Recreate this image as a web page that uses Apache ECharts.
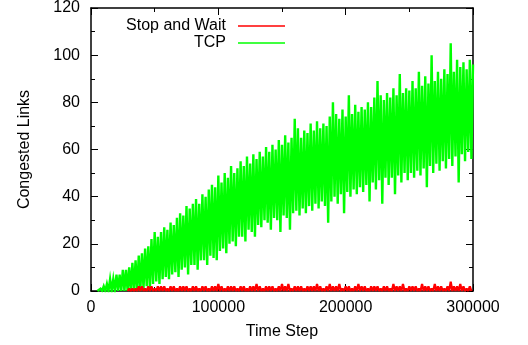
<!DOCTYPE html>
<html>
<head>
<meta charset="utf-8">
<script src="https://cdn.jsdelivr.net/npm/echarts@6/dist/echarts.min.js"></script>
<style>
html,body{margin:0;padding:0;background:#fff;}
#chart{width:528px;height:345px;}
</style>
</head>
<body>
<div id="chart"></div>
<script>
// ---- data ----
const xTicks = [0, 100000, 200000, 300000];
const yTicks = [0, 20, 40, 60, 80, 100, 120];
const seriesNames = ['Stop and Wait', 'TCP'];

// TCP: sampled every 2500 steps from 5000; peaks at the sample, troughs half a step later
const tcpStart = 5000, tcpStep = 2500;
const tcpHigh = [
  0,1,2,3,5,5,7,7,9,9,
  10,12,13,15,16,18,19,22,25,23,
  25,27,26,29,28,31,33,32,36,35,
  37,39,37,41,40,43,45,44,49,46,
  50,48,53,50,52,55,53,57,54,58,
  56,59,57,61,59,62,60,64,62,66,
  63,65,73,69,65,68,67,71,68,72,
  69,71,70,74,80,75,73,77,74,83,
  75,79,76,78,77,80,78,82,89,83,
  81,84,82,86,83,92,84,86,85,89,
  86,93,87,91,88,100,89,93,90,94,
  92,105,93,98,95,97,94,98,96
];
const tcpLow = [
  0,0,0,0,0,0,0,0,0,0,
  0,0,0,0,1,2,1,3,4,3,
  5,6,5,7,8,6,9,10,7,11,
  11,9,13,13,11,15,14,13,17,18,
  16,20,21,19,23,23,21,26,25,23,
  28,27,30,29,26,31,30,25,32,31,
  26,33,34,32,35,33,36,34,37,35,
  38,36,29,38,40,37,41,33,42,40,
  43,41,44,42,45,38,46,43,47,37,
  48,45,48,41,49,46,50,47,50,48,
  51,49,52,44,53,50,54,51,55,52,
  56,53,57,46,58,55,59,56
];

// Stop and Wait: peaks every 2500 steps from 30000, back to 0 in between
const swStart = 30000, swStep = 2500;
const swPeak = [
  1,1,1,2,2,1,2,2,1,2,
  2,2,1,2,2,1,2,2,2,1,
  2,2,1,2,2,1,2,2,3,2,
  1,2,2,2,1,2,2,1,2,2,
  3,2,1,2,2,2,1,2,3,2,
  3,1,2,2,2,1,2,2,2,3,
  2,1,2,3,2,2,3,1,2,2,
  1,2,3,2,2,1,2,2,2,1,
  2,2,1,3,2,2,3,1,2,2,
  2,1,3,2,2,1,3,2,2,1,
  2,4,2,2,3,2,1,2
];
const swTrough = 0;

// ---- build series ----
const tcpData = [];
for (let i = 0; i < tcpHigh.length; i++) {
  tcpData.push([tcpStart + i * tcpStep, tcpHigh[i]]);
  if (i < tcpLow.length) tcpData.push([tcpStart + i * tcpStep + tcpStep / 2, tcpLow[i]]);
}
const swData = [];
for (let i = 0; i < swPeak.length; i++) {
  swData.push([swStart + i * swStep - swStep / 2, swTrough]);
  swData.push([swStart + i * swStep, swPeak[i]]);
}
swData.push([swStart + swPeak.length * swStep - swStep / 2, swTrough]);

const FONT = '"Liberation Sans", Arial, Helvetica, sans-serif';
const chart = echarts.init(document.getElementById('chart'), null, {renderer: 'canvas'});

const axisCommon = {
  axisLine: {show: true, onZero: false, lineStyle: {color: '#000', width: 1.5}},
  axisTick: {show: true, inside: true, length: 7, lineStyle: {color: '#000', width: 1}},
  minorTick: {show: true, splitNumber: 2, length: 4, lineStyle: {color: '#000', width: 1}},
  splitLine: {show: false},
  minorSplitLine: {show: false}
};

chart.setOption({
  animation: false,
  backgroundColor: '#fff',
  grid: {left: 91, right: 55, top: 8, bottom: 54, containLabel: false},
  legend: [
    {data: [seriesNames[0]], right: 243, top: 18, padding: 0, icon: 'rect', itemWidth: 47, itemHeight: 1.5,
     align: 'right', itemGap: 0, textStyle: {fontFamily: FONT, fontSize: 16, color: '#000', padding: [0, 7, 0, 0]}},
    {data: [seriesNames[1]], right: 243, top: 35, padding: 0, icon: 'rect', itemWidth: 47, itemHeight: 1.5,
     align: 'right', itemGap: 0, textStyle: {fontFamily: FONT, fontSize: 16, color: '#000', padding: [0, 7, 0, 0]}}
  ],
  xAxis: [
    Object.assign({
      type: 'value', min: xTicks[0], max: xTicks[xTicks.length - 1], interval: xTicks[1] - xTicks[0],
      name: 'Time Step', nameLocation: 'middle', nameGap: 33,
      nameTextStyle: {fontFamily: FONT, fontSize: 16, color: '#000'},
      axisLabel: {fontFamily: FONT, fontSize: 16, color: '#000', margin: 9, formatter: v => String(v)}
    }, axisCommon),
    Object.assign({
      type: 'value', position: 'top', min: xTicks[0], max: xTicks[xTicks.length - 1], interval: xTicks[1] - xTicks[0],
      axisLabel: {show: false}
    }, axisCommon)
  ],
  yAxis: [
    Object.assign({
      type: 'value', min: yTicks[0], max: yTicks[yTicks.length - 1], interval: yTicks[1] - yTicks[0],
      name: 'Congested Links', nameLocation: 'middle', nameGap: 58,
      nameTextStyle: {fontFamily: FONT, fontSize: 16, color: '#000'},
      axisLabel: {fontFamily: FONT, fontSize: 16, color: '#000', margin: 11}
    }, axisCommon),
    Object.assign({
      type: 'value', position: 'right', min: yTicks[0], max: yTicks[yTicks.length - 1], interval: yTicks[1] - yTicks[0],
      axisLabel: {show: false}
    }, axisCommon)
  ],
  series: [
    {name: seriesNames[1], type: 'line', data: tcpData, showSymbol: false, symbol: 'none',
     color: '#00ff00', lineStyle: {color: '#00ff00', width: 2.4, join: 'miter'}, z: 2, clip: true},
    {name: seriesNames[0], type: 'line', data: swData, showSymbol: false, symbol: 'none',
     color: '#ff0000', lineStyle: {color: '#ff0000', width: 2.2}, z: 3, clip: true}
  ]
});
</script>
</body>
</html>
